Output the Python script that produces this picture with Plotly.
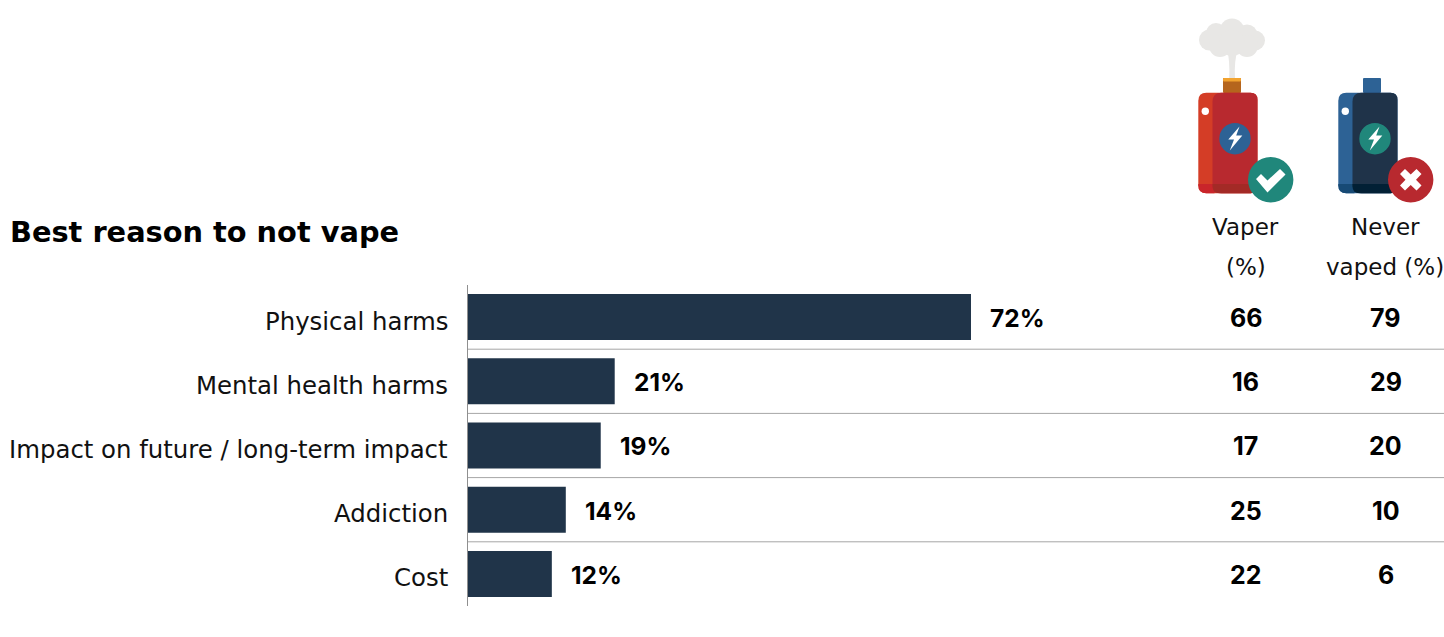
import plotly.graph_objects as go

W, H = 1444, 637

categories = ["Physical harms", "Mental health harms", "Impact on future / long-term impact", "Addiction", "Cost"]
overall = [72, 21, 19, 14, 12]
vaper = [66, 16, 17, 25, 22]
never_vaped = [79, 29, 20, 10, 6]

FONT = "Inter"
LABEL_FONT = "DejaVu Sans"
INK = "#111111"
BOLD_INK = "#000000"
BAR = "#203449"


def px(x):
    return x / W


def py(y):
    return 1 - y / H


def pt(x, y):
    return f"{px(x):.5f},{py(y):.5f}"


def path(d, fill):
    """Shape from (command, x, y, ...) tuples given in figure pixels."""
    out = []
    for cmd in d:
        c, nums = cmd[0], cmd[1:]
        pairs = " ".join(pt(nums[i], nums[i + 1]) for i in range(0, len(nums), 2))
        out.append(c + pairs)
    return dict(type="path", xref="paper", yref="paper", path=" ".join(out) + " Z",
                fillcolor=fill, line=dict(width=0), layer="above")


def circle(cx, cy, r, fill):
    return dict(type="circle", xref="paper", yref="paper", x0=px(cx - r), x1=px(cx + r),
                y0=py(cy + r), y1=py(cy - r), fillcolor=fill, line=dict(width=0), layer="above")


def rounded(x0, y0, x1, y1, rl, rr, fill):
    return path([("M", x0 + rl, y0), ("L", x1 - rr, y0), ("Q", x1, y0, x1, y0 + rr),
                 ("L", x1, y1 - rr), ("Q", x1, y1, x1 - rr, y1), ("L", x0 + rl, y1),
                 ("Q", x0, y1, x0, y1 - rl), ("L", x0, y0 + rl), ("Q", x0, y0, x0 + rl, y0)], fill)


def device(dx, left, right, foot_left, foot_right, disc):
    """Vape body with its side panel, foot band, light and charge badge."""
    x0, x1 = 1198.3 + dx, 1257.5 + dx
    top, bot, foot = 92.7, 193.3, 184
    split = 1212.5 + dx
    items = [rounded(x0, top, x1, bot, 8, 7, left)]
    items.append(path([("M", x0, foot), ("L", split + 2, foot), ("L", split + 2, bot), ("L", x0 + 8, bot),
                       ("Q", x0, bot, x0, bot - 8)], foot_left))
    items.append(rounded(split, top, x1, bot, 9, 7, right))
    items.append(path([("M", split, foot), ("L", x1, foot), ("L", x1, bot - 7), ("Q", x1, bot, x1 - 7, bot),
                       ("L", split + 7, bot), ("Q", split, bot, split, bot - 7)], foot_right))
    items.append(circle(1205.3 + dx, 111.3, 3.7, "#ffffff"))
    items.append(circle(1235 + dx, 138.7, 15.7, disc))
    items.append(path([("M", 1239.5 + dx, 126.5), ("L", 1228.3 + dx, 139.5), ("L", 1234 + dx, 139.5),
                       ("L", 1229.8 + dx, 150.5), ("L", 1242.3 + dx, 135.5), ("L", 1236.2 + dx, 135.5)], "#ffffff"))
    return items


shapes = []

# Vapour cloud and stem
SMOKE = "#E8E7E5"
for cx, cy, r in [(1209.5, 40, 10.5), (1216, 33, 10), (1232, 31, 12.5), (1247, 35, 10.5), (1255, 40.5, 10),
                  (1247, 46, 11), (1220, 46, 11), (1232, 43, 13)]:
    shapes.append(circle(cx, cy, r, SMOKE))
shapes.append(path([("M", 1227, 50), ("Q", 1230, 60, 1229.2, 78), ("L", 1235, 78), ("Q", 1234, 60, 1238, 50)], SMOKE))

# Neck of each device
shapes.append(rounded(1223, 78, 1241, 93, 1, 1, "#B5651D"))
shapes.append(rounded(1223, 78, 1241, 81.5, 1, 1, "#F2A32F"))
shapes.append(rounded(1363, 78, 1381, 93, 1, 1, "#2D6295"))

shapes += device(0, "#D43D26", "#B8292F", "#C9252A", "#A32A26", "#2D6295")
shapes += device(140, "#2D6295", "#1F3349", "#174A75", "#022035", "#20877B")

# Tick badge
shapes.append(circle(1270.7, 179.7, 22.7, "#20877B"))
shapes.append(path([("M", 1256, 179), ("L", 1261, 174), ("L", 1267.5, 180.5), ("L", 1280, 169), ("L", 1285.5, 174.5),
                    ("L", 1267.5, 192.5)], "#ffffff"))

# Cross badge
shapes.append(circle(1410.7, 179.7, 22.7, "#B8292F"))
shapes.append(path([("M", 1400, 174), ("L", 1405, 169), ("L", 1410.7, 174.5), ("L", 1416.5, 169), ("L", 1421.5, 174),
                    ("L", 1416, 179.7), ("L", 1421.5, 185.5), ("L", 1416.5, 190.5), ("L", 1410.7, 185),
                    ("L", 1405, 190.5), ("L", 1400, 185.5), ("L", 1405.5, 179.7)], "#ffffff"))

# Separators between the rows
for i in range(len(categories) - 1):
    shapes.append(dict(type="line", xref="paper", yref="y", x0=px(468), x1=1, y0=i + 0.5, y1=i + 0.5,
                       line=dict(color="#A6A6A6", width=1), layer="below"))

annotations = []


def text(s, x, y, size, bold=False, anchor="center"):
    annotations.append(dict(text=s, xref="paper", yref="paper", x=px(x), y=py(y), xanchor=anchor, yanchor="middle",
                            showarrow=False,
                            font=dict(family=LABEL_FONT, size=size, color=BOLD_INK if bold else INK,
                                      weight=700 if bold else 400)))


text("Best reason to not vape", 8, 232, 28.8, True, "left")
text("Vaper", 1245.5, 227, 23)
text("(%)", 1245.5, 267, 23)
text("Never", 1385.5, 227, 23)
text("vaped (%)", 1385, 267, 23)

for i, cat in enumerate(categories):
    annotations.append(dict(text=cat, xref="paper", yref="y", x=px(450), y=i, yshift=-4, xanchor="right",
                            yanchor="middle", showarrow=False, font=dict(family=LABEL_FONT, size=24.4, color=INK)))
    annotations.append(dict(text=f"{overall[i]}%", xref="x", yref="y", x=overall[i], y=i, xshift=17, yshift=-1,
                            xanchor="left", yanchor="middle", showarrow=False,
                            font=dict(family=FONT, size=24.5, color=BOLD_INK, weight=700)))
    for col_x, vals in ((1245.5, vaper), (1385.5, never_vaped)):
        annotations.append(dict(text=str(vals[i]), xref="paper", yref="y", x=px(col_x), y=i, yshift=-1,
                                xanchor="center", yanchor="middle", showarrow=False,
                                font=dict(family=FONT, size=25, color=BOLD_INK, weight=700)))

fig = go.Figure(go.Bar(y=categories, x=overall, orientation="h", marker=dict(color=BAR, line=dict(width=0)),
                       hoverinfo="skip"))

fig.update_layout(
    width=W, height=H, autosize=False,
    margin=dict(l=0, r=0, t=0, b=0),
    paper_bgcolor="#ffffff", plot_bgcolor="#ffffff",
    showlegend=False, bargap=0.284,
    shapes=shapes, annotations=annotations,
    xaxis=dict(domain=[px(468), 1], range=[0, (W - 468) / 6.986], visible=False, fixedrange=True),
    yaxis=dict(domain=[py(606), py(285)], type="category", categoryorder="array", categoryarray=categories,
               autorange="reversed", showticklabels=False, ticks="", showgrid=False, zeroline=False,
               showline=True, linecolor="#8F8F8F", linewidth=1, fixedrange=True),
)

fig.write_html("out.html", config=dict(displayModeBar=False))
